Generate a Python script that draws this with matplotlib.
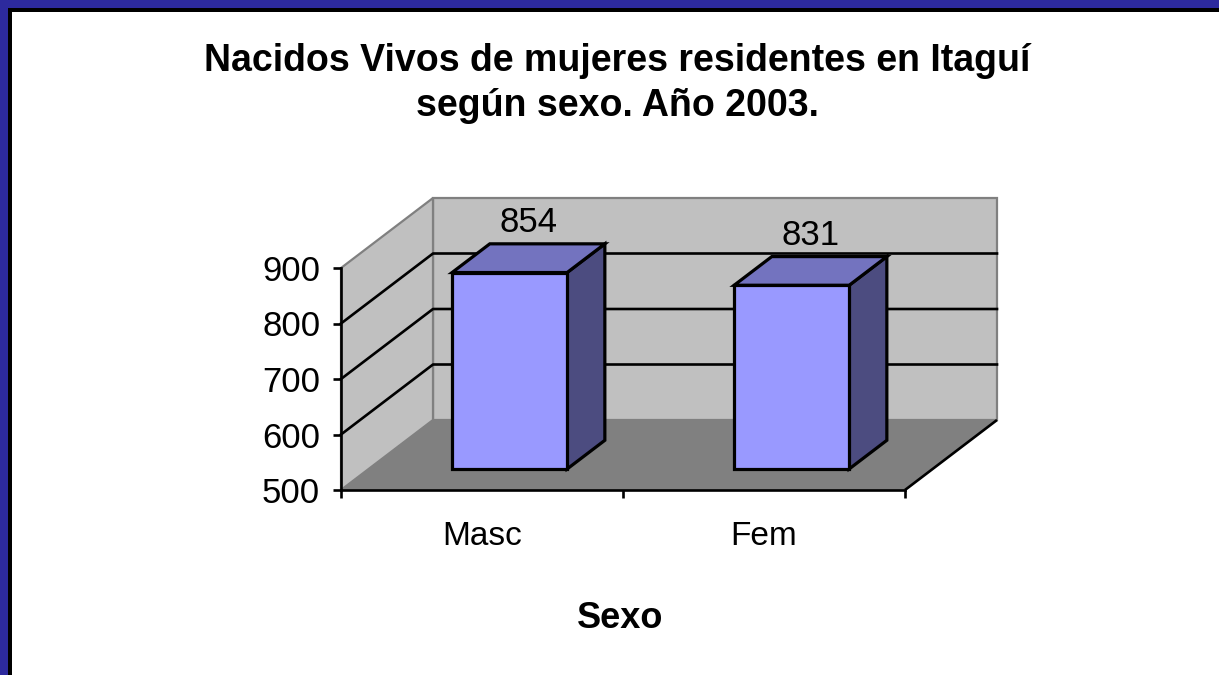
import matplotlib
matplotlib.use("Agg")
import matplotlib.pyplot as plt
from matplotlib.patches import Polygon, Rectangle

plt.rcParams['font.family'] = ['Liberation Sans', 'DejaVu Sans']

# ---- data ----
categories = ["Masc", "Fem"]
values = [854, 831]
y_ticks = [500, 600, 700, 800, 900]
title = "Nacidos Vivos de mujeres residentes en Itaguí\nsegún sexo. Año 2003."
xlabel = "Sexo"

# ---- style ----
W, H = 1219, 675
DPI = 100
FRONT = "#9999FF"
TOP = "#7373BF"
SIDE = "#4C4C80"
WALL = "#C0C0C0"
FLOOR = "#808080"
EDGE = "#808080"
BLUE = "#2D2A9E"

fig = plt.figure(figsize=(W / DPI, H / DPI), dpi=DPI)
fig.patch.set_facecolor("white")

# frame (slide border)
def px_rect(x, y, w, h, color):
    fig.patches.append(Rectangle((x / W, 1 - (y + h) / H), w / W, h / H,
                                 transform=fig.transFigure, facecolor=color,
                                 edgecolor='none', zorder=0))
px_rect(0, 0, 8, H, BLUE)
px_rect(0, 0, W, 8, BLUE)
px_rect(8, 8, 3.5, H, "black")
px_rect(8, 8, W, 3.5, "black")

# axes = front plane of the 3D box
x0p, x1p, ytop, ybot = 341, 905, 268, 490
ax = fig.add_axes([x0p / W, 1 - ybot / H, (x1p - x0p) / W, (ybot - ytop) / H])
ncat = len(categories)
ax.set_xlim(0, ncat)
ax.set_ylim(y_ticks[0], y_ticks[-1])
ax.patch.set_visible(False)

# depth offset (full depth) in data units
DX = 92 / ((x1p - x0p) / ncat)
DY = 70 / ((ybot - ytop) / (y_ticks[-1] - y_ticks[0]))

def P(x, v, d):
    return (x + d * DX, v + d * DY)

vmin, vmax = y_ticks[0], y_ticks[-1]

# walls and floor
ax.add_patch(Polygon([P(0, vmin, 1), P(ncat, vmin, 1), P(ncat, vmax, 1), P(0, vmax, 1)],
                     closed=True, facecolor=WALL, edgecolor=EDGE, lw=1.6, clip_on=False, zorder=1))
ax.add_patch(Polygon([P(0, vmin, 0), P(0, vmax, 0), P(0, vmax, 1), P(0, vmin, 1)],
                     closed=True, facecolor=WALL, edgecolor=EDGE, lw=1.6, clip_on=False, zorder=1))
ax.add_patch(Polygon([P(0, vmin, 0), P(ncat, vmin, 0), P(ncat, vmin, 1), P(0, vmin, 1)],
                     closed=True, facecolor=FLOOR, edgecolor='none', clip_on=False, zorder=1.1))
xa, ya = zip(P(ncat, vmin, 0), P(ncat, vmin, 1))
ax.plot(xa, ya, color="black", lw=1.9, clip_on=False, zorder=1.2, solid_capstyle='butt')

# gridlines on walls
for v in y_ticks[1:-1]:
    pts = [P(0, v, 0), P(0, v, 1), P(ncat, v, 1)]
    xs, ys = zip(*pts)
    ax.plot(xs, ys, color="black", lw=1.9, clip_on=False, zorder=1.3)

# bars
bw = 0.408
d0, d1 = 0.30, 0.71
for i, (cat, val) in enumerate(zip(categories, values)):
    c = i + 0.5
    xl, xr = c - bw / 2, c + bw / 2
    kw = dict(closed=True, edgecolor="black", lw=2.3, clip_on=False, zorder=3, joinstyle='miter')
    ax.add_patch(Polygon([P(xr, vmin, d0), P(xr, vmin, d1), P(xr, val, d1), P(xr, val, d0)],
                         facecolor=SIDE, **kw))
    ax.add_patch(Polygon([P(xl, val, d0), P(xr, val, d0), P(xr, val, d1), P(xl, val, d1)],
                         facecolor=TOP, **kw))
    ax.add_patch(Polygon([P(xl, vmin, d0), P(xr, vmin, d0), P(xr, val, d0), P(xl, val, d0)],
                         facecolor=FRONT, **kw))
    lx, ly = P(c, val, (d0 + d1) / 2)
    ax.annotate(str(val), (lx, ly), xytext=(0, 14), textcoords="offset points",
                ha="center", va="bottom", fontsize=25, zorder=4, annotation_clip=False)

# axes lines / ticks
for s in ["top", "right"]:
    ax.spines[s].set_visible(False)
for s in ["left", "bottom"]:
    ax.spines[s].set_color("black")
    ax.spines[s].set_linewidth(1.9)
    ax.spines[s].set_zorder(2)
ax.set_yticks(y_ticks)
ax.set_yticklabels([str(t) for t in y_ticks])
ax.tick_params(axis="y", direction="out", length=6, width=1.9, labelsize=25, pad=9)
ax.set_xticks(range(ncat + 1))
ax.set_xticklabels([])
ax.set_xticks([i + 0.5 for i in range(ncat)], minor=True)
ax.set_xticklabels(categories, minor=True)
ax.tick_params(axis="x", which="major", direction="out", length=6, width=1.9)
ax.tick_params(axis="x", which="minor", length=0, labelsize=24, pad=22)

ax.set_xlabel(xlabel, fontsize=26, fontweight="bold")
ax.xaxis.set_label_coords(0.495, -0.50)
ax.xaxis.label.set_va("top")

fig.text(617 / W, 1 - 43 / H, title, ha="center", va="top", fontsize=27,
         fontweight="bold", linespacing=1.32)

fig.savefig("out.png", dpi=DPI)
